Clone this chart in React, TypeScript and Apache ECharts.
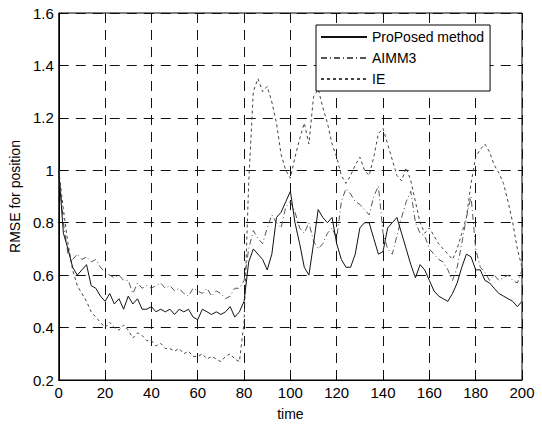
import React, { useEffect, useRef } from "react";
import * as echarts from "echarts";

const timeSteps: number[] = [
  0, 2, 4, 6, 8, 10, 12, 14, 16, 18, 20, 22, 24, 26, 28, 30, 32, 34, 36, 38,
  40, 42, 44, 46, 48, 50, 52, 54, 56, 58, 60, 62, 64, 66, 68, 70, 72, 74, 76, 78,
  80, 82, 84, 86, 88, 90, 92, 94, 96, 98, 100, 102, 104, 106, 108, 110, 112, 114, 116, 118,
  120, 122, 124, 126, 128, 130, 132, 134, 136, 138, 140, 142, 144, 146, 148, 150, 152, 154, 156, 158,
  160, 162, 164, 166, 168, 170, 172, 174, 176, 178, 180, 182, 184, 186, 188, 190, 192, 194, 196, 198, 200,
];

const proposed: number[] = [
  1.0, 0.76, 0.7, 0.63, 0.6, 0.62, 0.64, 0.56, 0.55, 0.52, 0.5, 0.53, 0.49, 0.51, 0.47, 0.52, 0.49, 0.51, 0.47, 0.47,
  0.48, 0.46, 0.47, 0.46, 0.47, 0.45, 0.47, 0.46, 0.47, 0.44, 0.43, 0.47, 0.46, 0.45, 0.46, 0.45, 0.46, 0.48, 0.44, 0.46,
  0.5, 0.65, 0.7, 0.68, 0.66, 0.62, 0.68, 0.82, 0.84, 0.88, 0.92, 0.8, 0.72, 0.63, 0.6, 0.72, 0.85, 0.82, 0.8, 0.82,
  0.72, 0.66, 0.63, 0.63, 0.68, 0.78, 0.8, 0.8, 0.74, 0.68, 0.69, 0.78, 0.8, 0.82, 0.76, 0.7, 0.64, 0.59, 0.64, 0.62,
  0.58, 0.54, 0.52, 0.51, 0.5, 0.53, 0.57, 0.63, 0.68, 0.67, 0.62, 0.62, 0.58, 0.57, 0.55, 0.53, 0.52, 0.51, 0.5, 0.48, 0.5,
];

const aimm3: number[] = [
  1.0, 0.8, 0.68, 0.66, 0.68, 0.66, 0.67, 0.65, 0.66, 0.63, 0.61, 0.6, 0.59, 0.6, 0.58, 0.58, 0.53, 0.57, 0.55, 0.56,
  0.55, 0.56, 0.57, 0.55, 0.56, 0.54, 0.55, 0.53, 0.52, 0.55, 0.54, 0.53, 0.55, 0.52, 0.54, 0.53, 0.51, 0.52, 0.55, 0.55,
  0.58, 0.7, 0.77, 0.74, 0.72, 0.78, 0.83, 0.8, 0.78, 0.86, 0.88, 0.84, 0.78, 0.76, 0.8, 0.73, 0.7, 0.72, 0.76, 0.78,
  0.74, 0.88, 0.93, 0.91, 0.88, 0.87, 0.85, 0.83, 0.9, 0.94, 0.76, 0.7, 0.68, 0.75, 0.82, 0.88, 0.92, 0.8, 0.76, 0.75,
  0.7, 0.68, 0.66, 0.65, 0.62, 0.58, 0.63, 0.72, 0.82, 0.9, 0.7, 0.63, 0.61, 0.58, 0.6, 0.58, 0.59, 0.6, 0.58, 0.57, 0.62,
];

const ie: number[] = [
  1.0, 0.85, 0.72, 0.62, 0.56, 0.53, 0.5, 0.46, 0.44, 0.42, 0.4, 0.42, 0.4, 0.39, 0.41, 0.39, 0.36, 0.38, 0.37, 0.35,
  0.35, 0.33, 0.34, 0.32, 0.32, 0.31, 0.32, 0.3, 0.31, 0.29, 0.29, 0.3, 0.28, 0.29, 0.28, 0.27, 0.29, 0.3, 0.28, 0.27,
  0.42, 0.95, 1.3, 1.35, 1.3, 1.32, 1.26, 1.18, 1.06, 1.0, 0.97, 1.05, 1.12, 1.18, 1.1, 1.28, 1.31, 1.24, 1.18, 1.1,
  1.05, 0.98, 0.95, 0.98, 1.02, 1.05, 1.0, 0.98, 1.05, 1.14, 1.16, 1.1, 1.04, 0.98, 0.96, 1.01, 0.96, 0.88, 0.8, 0.76,
  0.78, 0.75, 0.72, 0.7, 0.68, 0.66, 0.7, 0.76, 0.82, 0.95, 1.05, 1.08, 1.1, 1.07, 1.02, 0.99, 0.95, 0.88, 0.8, 0.7, 0.63,
];

const seriesNames: string[] = ["ProPosed method", "AIMM3", "IE"];

const pair = (vals: number[]) => timeSteps.map((t, i) => [t, vals[i]]);

export default function App() {
  const ref = useRef<HTMLDivElement>(null);
  useEffect(() => {
    if (!ref.current) return;
    const chart = echarts.init(ref.current, null, { renderer: "svg" });
    const font = "Arial, 'Liberation Sans', sans-serif";
    const axisCommon = {
      axisLine: { show: true, lineStyle: { color: "#000", width: 1 } },
      axisTick: { show: true, inside: true, length: 4, lineStyle: { color: "#000" } },
      splitLine: { show: true, lineStyle: { color: "#111", width: 1, type: [10, 7] } },
      nameTextStyle: { color: "#000", fontSize: 14, fontFamily: font },
    };
    chart.setOption({
      animation: false,
      backgroundColor: "#fff",
      grid: { left: 52, right: 20, top: 13, bottom: 38, show: true, borderColor: "#000", borderWidth: 1 },
      legend: {
        left: 316,
        top: 25,
        orient: "vertical",
        data: seriesNames,
        borderColor: "#000",
        borderWidth: 1,
        backgroundColor: "#fff",
        borderRadius: 0,
        padding: [5, 6, 5, 4],
        itemGap: 7,
        itemWidth: 46,
        itemHeight: 12,
        itemStyle: { opacity: 0 },
        textStyle: { color: "#000", fontSize: 14, fontFamily: font },
      },
      xAxis: {
        type: "value",
        min: 0,
        max: 200,
        interval: 20,
        name: "time",
        nameLocation: "middle",
        nameGap: 27,
        ...axisCommon,
        axisLabel: { color: "#000", fontSize: 15, fontFamily: font, margin: 5 },
      },
      yAxis: {
        type: "value",
        min: 0.2,
        max: 1.6,
        interval: 0.2,
        name: "RMSE for position",
        nameLocation: "middle",
        nameGap: 22,
        ...axisCommon,
        axisLabel: {
          color: "#000",
          fontSize: 15,
          fontFamily: font,
          margin: 5,
          formatter: (v: number) => String(Math.round(v * 10) / 10),
        },
      },
      series: [
        {
          name: seriesNames[0],
          type: "line",
          data: pair(proposed),
          symbol: "none",
          lineStyle: { color: "#111", width: 1, type: "solid" },
          itemStyle: { color: "#111" },
          z: 4,
        },
        {
          name: seriesNames[1],
          type: "line",
          data: pair(aimm3),
          symbol: "none",
          lineStyle: { color: "#555", width: 1, type: [6, 3, 1, 3] },
          itemStyle: { color: "#555" },
          z: 3,
        },
        {
          name: seriesNames[2],
          type: "line",
          data: pair(ie),
          symbol: "none",
          lineStyle: { color: "#444", width: 1, type: [3, 3] },
          itemStyle: { color: "#444" },
          z: 2,
        },
      ],
    });
    return () => chart.dispose();
  }, []);
  return <div ref={ref} style={{ width: 542, height: 426, position: "absolute", left: 0, top: 0 }} />;
}
